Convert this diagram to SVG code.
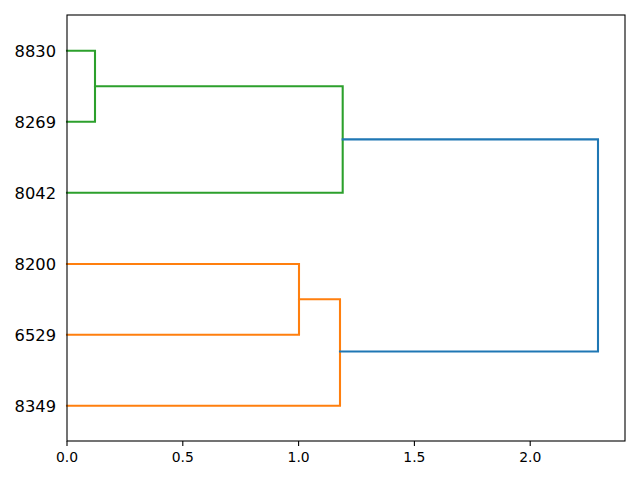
<svg xmlns="http://www.w3.org/2000/svg" width="640" height="480" viewBox="0 0 640 480">
<style>
.l{fill:none;stroke-width:2.08;stroke-linecap:square;stroke-linejoin:miter}
.g{stroke:#2ca02c}.o{stroke:#ff7f0e}.b{stroke:#1f77b4}
.yl{font-family:"DejaVu Sans",sans-serif;font-size:16.3px;text-anchor:end;fill:#000}
.xl{font-family:"DejaVu Sans",sans-serif;font-size:13.9px;text-anchor:middle;fill:#000}
</style>
<rect width="640" height="480" fill="#fff"/>
<g id="connectors">
<path class="l g" d="M67,50.7H95V121.7H67"/>
<path class="l g" d="M95,86.2H342.7V192.7H67"/>
<path class="l o" d="M67,264H299V334.7H67"/>
<path class="l o" d="M299,299.3H340V405.7H67"/>
<path class="l b" d="M342.7,139.4H598V351.5H340"/>
</g>
<g id="axes" stroke="#000" stroke-width="1.1" fill="none">
<rect x="67" y="15" width="558" height="426"/>
<path d="M67,441v4.9M182.8,441v4.9M298.6,441v4.9M414.4,441v4.9M530.2,441v4.9"/>
</g>
<g id="xticks">
<text class="xl" x="67" y="461.5">0.0</text>
<text class="xl" x="182.8" y="461.5">0.5</text>
<text class="xl" x="298.6" y="461.5">1.0</text>
<text class="xl" x="414.4" y="461.5">1.5</text>
<text class="xl" x="530.2" y="461.5">2.0</text>
</g>
<g id="leaf-8830"><text class="yl" x="56" y="56.8">8830</text></g>
<g id="leaf-8269"><text class="yl" x="56" y="127.8">8269</text></g>
<g id="leaf-8042"><text class="yl" x="56" y="198.8">8042</text></g>
<g id="leaf-8200"><text class="yl" x="56" y="269.8">8200</text></g>
<g id="leaf-6529"><text class="yl" x="56" y="340.8">6529</text></g>
<g id="leaf-8349"><text class="yl" x="56" y="411.8">8349</text></g>
</svg>
